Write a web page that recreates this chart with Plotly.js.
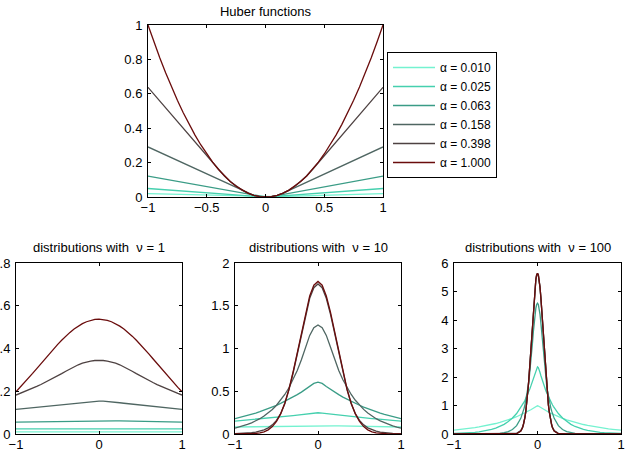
<!DOCTYPE html>
<html>
<head>
<meta charset="utf-8">
<script src="https://cdn.plot.ly/plotly-3.0.1.min.js"></script>
<style>
  html, body { margin: 0; padding: 0; background: #fff; }
  #chart { width: 627px; height: 452px; }
</style>
</head>
<body>
<div id="chart"></div>
<script>
// Every curve is symmetric about x = 0, so each array holds the x >= 0 half;
// the negative half is drawn by mirroring the same values.

const alphaLabels = ['α = 0.010', 'α = 0.025', 'α = 0.063', 'α = 0.158', 'α = 0.398', 'α = 1.000'];
const alphaColors = ['#74f2d0', '#45d0ae', '#3a9c86', '#4f6662', '#4e4242', '#6a0c0c'];

// x samples (x >= 0) for the Huber panel and the nu = 1, nu = 10 panels
const xCoarse = [0, 0.05, 0.1, 0.15, 0.2, 0.25, 0.3, 0.35, 0.4, 0.45, 0.5, 0.55, 0.6, 0.65, 0.7, 0.75, 0.8, 0.85, 0.9, 0.95, 1];
// x samples (x >= 0) for the sharply peaked nu = 100 panel
const xFine = [0, 0.01, 0.02, 0.03, 0.04, 0.05, 0.06, 0.07, 0.08, 0.09, 0.1, 0.11, 0.12, 0.13, 0.14, 0.15, 0.16, 0.17, 0.18, 0.19, 0.2,
               0.25, 0.3, 0.35, 0.4, 0.45, 0.5, 0.55, 0.6, 0.65, 0.7, 0.75, 0.8, 0.85, 0.9, 0.95, 1];

// Huber functions
const huber010 = [0, 0.0009, 0.0019, 0.0029, 0.0039, 0.0049, 0.0059, 0.0069, 0.0079, 0.0089, 0.0099, 0.0109, 0.0119, 0.0129, 0.0139, 0.0149, 0.0159, 0.0169, 0.0179, 0.0189, 0.0199];
const huber025 = [0, 0.0019, 0.0044, 0.0069, 0.0094, 0.0119, 0.0144, 0.0169, 0.0194, 0.0219, 0.0244, 0.0269, 0.0294, 0.0319, 0.0344, 0.0369, 0.0394, 0.0419, 0.0444, 0.0469, 0.0494];
const huber063 = [0, 0.0025, 0.0086, 0.0149, 0.0212, 0.0275, 0.0338, 0.0401, 0.0464, 0.0527, 0.0590, 0.0653, 0.0716, 0.0779, 0.0842, 0.0905, 0.0968, 0.1031, 0.1094, 0.1157, 0.1220];
const huber158 = [0, 0.0025, 0.0100, 0.0225, 0.0382, 0.0540, 0.0698, 0.0856, 0.1014, 0.1172, 0.1330, 0.1488, 0.1646, 0.1804, 0.1962, 0.2120, 0.2278, 0.2436, 0.2594, 0.2752, 0.2910];
const huber398 = [0, 0.0025, 0.0100, 0.0225, 0.0400, 0.0625, 0.0900, 0.1225, 0.1600, 0.1998, 0.2396, 0.2794, 0.3192, 0.3590, 0.3988, 0.4386, 0.4784, 0.5182, 0.5580, 0.5978, 0.6376];
const huber1000 = [0, 0.0025, 0.0100, 0.0225, 0.0400, 0.0625, 0.0900, 0.1225, 0.1600, 0.2025, 0.2500, 0.3025, 0.3600, 0.4225, 0.4900, 0.5625, 0.6400, 0.7225, 0.8100, 0.9025, 1.0000];

// distributions, nu = 1
const nu1a010 = [0.0100, 0.00999, 0.00998, 0.00997, 0.00996, 0.00995, 0.00994, 0.00993, 0.00992, 0.00991, 0.00990, 0.00989, 0.00988, 0.00987, 0.00986, 0.00985, 0.00984, 0.00983, 0.00982, 0.00981, 0.00980];
const nu1a025 = [0.02498, 0.02494, 0.02488, 0.02481, 0.02475, 0.02469, 0.02463, 0.02457, 0.02451, 0.02444, 0.02438, 0.02432, 0.02426, 0.02420, 0.02414, 0.02408, 0.02402, 0.02396, 0.02390, 0.02384, 0.02378];
const nu1a063 = [0.06275, 0.06259, 0.06221, 0.06182, 0.06143, 0.06105, 0.06066, 0.06028, 0.05990, 0.05953, 0.05915, 0.05878, 0.05841, 0.05805, 0.05768, 0.05732, 0.05696, 0.05660, 0.05625, 0.05589, 0.05554];
const nu1a158 = [0.1542, 0.1538, 0.1526, 0.1507, 0.1484, 0.1461, 0.1438, 0.1415, 0.1393, 0.1371, 0.1350, 0.1329, 0.1308, 0.1287, 0.1267, 0.1247, 0.1228, 0.1208, 0.1189, 0.1171, 0.1152];
const nu1a398 = [0.3448, 0.3439, 0.3414, 0.3371, 0.3313, 0.3239, 0.3151, 0.3050, 0.2938, 0.2823, 0.2713, 0.2607, 0.2506, 0.2408, 0.2314, 0.2224, 0.2137, 0.2054, 0.1973, 0.1896, 0.1822];
const nu1a1000 = [0.5372, 0.5359, 0.5318, 0.5252, 0.5161, 0.5046, 0.4910, 0.4753, 0.4578, 0.4387, 0.4184, 0.3970, 0.3748, 0.3521, 0.3291, 0.3061, 0.2833, 0.2608, 0.2390, 0.2179, 0.1976];

// distributions, nu = 10
const nu10a010 = [0.0999, 0.0990, 0.0980, 0.0970, 0.0961, 0.0951, 0.0942, 0.0932, 0.0923, 0.0914, 0.0905, 0.0896, 0.0887, 0.0878, 0.0869, 0.0861, 0.0852, 0.0844, 0.0835, 0.0827, 0.0819];
const nu10a025 = [0.2484, 0.2438, 0.2378, 0.2319, 0.2262, 0.2206, 0.2152, 0.2099, 0.2047, 0.1996, 0.1947, 0.1899, 0.1852, 0.1806, 0.1762, 0.1718, 0.1676, 0.1635, 0.1594, 0.1555, 0.1516];
const nu10a063 = [0.6061, 0.5911, 0.5560, 0.5220, 0.4902, 0.4602, 0.4321, 0.4058, 0.3810, 0.3577, 0.3359, 0.3154, 0.2961, 0.2780, 0.2611, 0.2451, 0.2302, 0.2161, 0.2029, 0.1905, 0.1789];
const nu10a158 = [1.2745, 1.2430, 1.1532, 1.0177, 0.8695, 0.7424, 0.6339, 0.5413, 0.4622, 0.3946, 0.3369, 0.2877, 0.2457, 0.2098, 0.1791, 0.1529, 0.1306, 0.1115, 0.0952, 0.0813, 0.0694];
const nu10a398 = [1.7545, 1.7112, 1.5876, 1.4010, 1.1761, 0.9391, 0.7133, 0.5154, 0.3542, 0.2379, 0.1598, 0.1073, 0.0721, 0.0484, 0.0325, 0.0218, 0.0147, 0.0099, 0.0066, 0.0045, 0.0030];
const nu10a1000 = [1.7841, 1.7401, 1.6143, 1.4247, 1.1959, 0.9550, 0.7254, 0.5241, 0.3602, 0.2355, 0.1465, 0.0866, 0.0488, 0.0261, 0.0133, 0.0064, 0.0030, 0.0013, 0.0005, 0.0002, 0.0001];

// distributions, nu = 100 (on xFine)
const nu100a010 = [0.9901, 0.9803, 0.9608, 0.9418, 0.9232, 0.9049, 0.8870, 0.8694, 0.8522, 0.8353, 0.8188, 0.8026, 0.7867, 0.7711, 0.7558, 0.7409, 0.7262, 0.7118, 0.6977, 0.6839, 0.6704,
                   0.6066, 0.5488, 0.4966, 0.4494, 0.4066, 0.3679, 0.3329, 0.3012, 0.2726, 0.2466, 0.2231, 0.2019, 0.1827, 0.1653, 0.1496, 0.1353];
const nu100a025 = [2.3544, 2.3309, 2.2621, 2.1571, 2.0519, 1.9518, 1.8566, 1.7661, 1.6800, 1.5980, 1.5201, 1.4460, 1.3754, 1.3084, 1.2446, 1.1839, 1.1261, 1.0712, 1.0190, 0.9693, 0.9220,
                   0.7180, 0.5592, 0.4355, 0.3392, 0.2642, 0.2057, 0.1602, 0.1248, 0.0972, 0.0757, 0.0589, 0.0459, 0.0357, 0.0278, 0.0217, 0.0169];
const nu100a063 = [4.5899, 4.5442, 4.4099, 4.1949, 3.9113, 3.5746, 3.2023, 2.8257, 2.4912, 2.1963, 1.9363, 1.7071, 1.5050, 1.3268, 1.1697, 1.0313, 0.9092, 0.8015, 0.7066, 0.6230, 0.5492,
                   0.2925, 0.1558, 0.0830, 0.0442, 0.0235, 0.0125, 0.0067, 0.0036, 0.0019, 0.0010, 0.0005, 0.0003, 0.0002, 0.0001, 0.0000, 0.0000];
const nu100a158 = [5.6196, 5.5637, 5.3993, 5.1359, 4.7887, 4.3766, 3.9207, 3.4427, 2.9632, 2.4999, 2.0673, 1.6758, 1.3314, 1.0369, 0.7916, 0.5923, 0.4346, 0.3169, 0.2310, 0.1684, 0.1228,
                   0.0253, 0.0052, 0.0011, 0.0002, 0.0001, 0, 0, 0, 0, 0, 0, 0, 0, 0, 0, 0];
const nu100a398 = [5.6419, 5.5858, 5.4207, 5.1563, 4.8077, 4.3939, 3.9362, 3.4564, 2.9749, 2.5098, 2.0755, 1.6824, 1.3367, 1.0410, 0.7947, 0.5946, 0.4361, 0.3136, 0.2210, 0.1526, 0.1033,
                   0.0109, 0.0007, 0, 0, 0, 0, 0, 0, 0, 0, 0, 0, 0, 0, 0, 0];
const nu100a1000 = [5.6419, 5.5858, 5.4207, 5.1563, 4.8077, 4.3939, 3.9362, 3.4564, 2.9749, 2.5098, 2.0755, 1.6824, 1.3367, 1.0410, 0.7947, 0.5946, 0.4361, 0.3136, 0.2210, 0.1526, 0.1033,
                    0.0109, 0.0007, 0, 0, 0, 0, 0, 0, 0, 0, 0, 0, 0, 0, 0, 0];

const huberSeries = [huber010, huber025, huber063, huber158, huber398, huber1000];
const nu1Series = [nu1a010, nu1a025, nu1a063, nu1a158, nu1a398, nu1a1000];
const nu10Series = [nu10a010, nu10a025, nu10a063, nu10a158, nu10a398, nu10a1000];
const nu100Series = [nu100a010, nu100a025, nu100a063, nu100a158, nu100a398, nu100a1000];

// full symmetric curve from its x >= 0 half
function fullX(half) { return half.slice(1).reverse().map(v => -v).concat(half); }
function fullY(half) { return half.slice(1).reverse().concat(half); }

const W = 627, H = 452;
const FONT = 'Liberation Sans, Arial, Helvetica, sans-serif';

function panelTraces(xs, series, xa, ya, legend) {
  return series.map((ys, i) => ({
    type: 'scatter', mode: 'lines',
    x: fullX(xs), y: fullY(ys),
    xaxis: xa, yaxis: ya,
    name: alphaLabels[i],
    showlegend: legend,
    line: { color: alphaColors[i], width: 1.3 },
    hoverinfo: 'skip'
  }));
}

const traces = [].concat(
  panelTraces(xCoarse, huberSeries, 'x', 'y', true),
  panelTraces(xCoarse, nu1Series, 'x2', 'y2', false),
  panelTraces(xCoarse, nu10Series, 'x3', 'y3', false),
  panelTraces(xFine, nu100Series, 'x4', 'y4', false)
);

// pixel box -> paper domain
function xd(l, r) { return [l / W, r / W]; }
function yd(t, b) { return [1 - b / H, 1 - t / H]; }

function axis(domain, range, tickvals, anchor, standoff) {
  return {
    domain: domain, range: range, anchor: anchor,
    tickmode: 'array', tickvals: tickvals,
    ticks: 'inside', ticklen: 3, tickwidth: 1, tickcolor: '#000',
    ticklabelstandoff: standoff,
    showline: true, linecolor: '#000', linewidth: 1, mirror: 'ticks',
    showgrid: false, zeroline: false, automargin: false, fixedrange: true,
    tickfont: { family: FONT, size: 13, color: '#000' }
  };
}

const bottomTop = 263, bottomBot = 434;

const layout = {
  width: W, height: H,
  margin: { l: 0, r: 0, t: 0, b: 0 },
  paper_bgcolor: '#fff', plot_bgcolor: '#fff',
  font: { family: FONT, size: 13, color: '#000' },
  title: {
    text: 'Huber functions',
    x: 265.5 / W, xref: 'paper', xanchor: 'center',
    y: 1 - 11 / H, yref: 'paper', yanchor: 'middle',
    font: { family: FONT, size: 13, color: '#000' }
  },
  xaxis: axis(xd(148, 383), [-1, 1], [-1, -0.5, 0, 0.5, 1], 'y', -2),
  yaxis: axis(yd(25, 197), [0, 1], [0, 0.2, 0.4, 0.6, 0.8, 1], 'x', 2),
  xaxis2: axis(xd(16, 182), [-1, 1], [-1, 0, 1], 'y2', -2),
  yaxis2: axis(yd(bottomTop, bottomBot), [0, 0.8], [0, 0.2, 0.4, 0.6, 0.8], 'x2', 2),
  xaxis3: axis(xd(235, 401), [-1, 1], [-1, 0, 1], 'y3', -2),
  yaxis3: axis(yd(bottomTop, bottomBot), [0, 2], [0, 0.5, 1, 1.5, 2], 'x3', 2),
  xaxis4: axis(xd(454, 621), [-1, 1], [-1, 0, 1], 'y4', -2),
  yaxis4: axis(yd(bottomTop, bottomBot), [0, 6], [0, 1, 2, 3, 4, 5, 6], 'x4', 2),
  legend: {
    x: 387 / W, y: 1 - 52 / H, xanchor: 'left', yanchor: 'top',
    bordercolor: '#000', borderwidth: 1, bgcolor: '#fff',
    font: { family: FONT, size: 12, color: '#000' },
    itemwidth: 42, tracegroupgap: 0
  },
  annotations: [
    { text: 'distributions with \u00a0ν = 1', x: 99 / W, y: 1 - 248 / H },
    { text: 'distributions with \u00a0ν = 10', x: 318 / W, y: 1 - 248 / H },
    { text: 'distributions with \u00a0ν = 100', x: 537.5 / W, y: 1 - 248 / H }
  ].map(a => Object.assign(a, {
    xref: 'paper', yref: 'paper', xanchor: 'center', yanchor: 'middle',
    showarrow: false, font: { family: FONT, size: 13, color: '#000' }
  }))
};

Plotly.newPlot('chart', traces, layout, { staticPlot: true, displayModeBar: false });
</script>
</body>
</html>
